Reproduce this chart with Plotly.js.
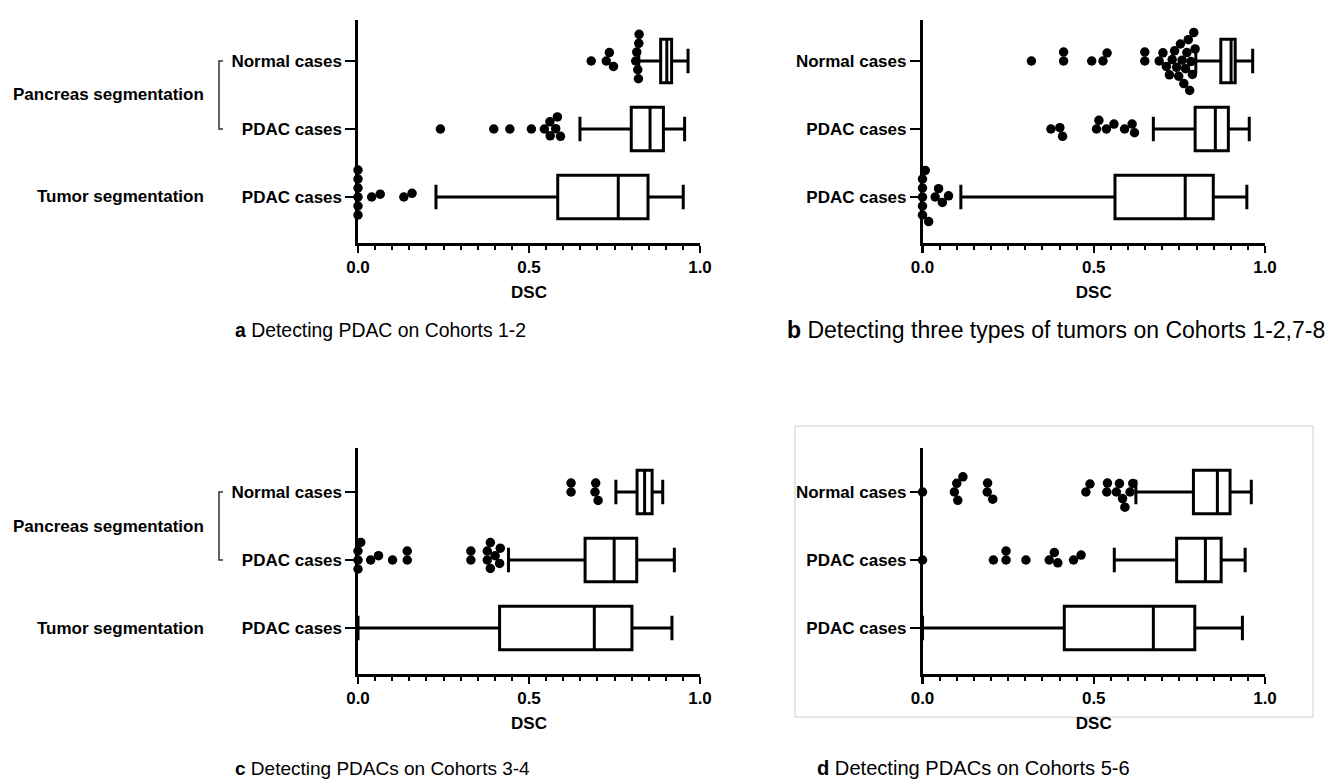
<!DOCTYPE html>
<html>
<head>
<meta charset="utf-8">
<script src="https://cdn.plot.ly/plotly-3.0.1.min.js"></script>
<style>html,body{margin:0;padding:0;background:#fff;}#chart{width:1340px;height:783px;}</style>
</head>
<body>
<div id="chart"></div>
<script>
// ---------- data ----------
// rows from bottom to top: Tumor segmentation / PDAC, Pancreas / PDAC, Pancreas / Normal
const rowPositions = [0, 1, 2];
const rowTicks = ["PDAC cases", "PDAC cases", "Normal cases"];
const groupLabels = ["Tumor segmentation", "Pancreas segmentation"];
const xTickVals = [0, 0.5, 1.0];
const axisTitle = "DSC";
const captions = [
  "<b>a</b> Detecting PDAC on Cohorts 1-2",
  "<b>b</b> Detecting three types of tumors on Cohorts 1-2,7-8",
  "<b>c</b> Detecting PDACs on Cohorts 3-4",
  "<b>d</b> Detecting PDACs on Cohorts 5-6"
];

// panel a
const aLowerFence = [0.228, 0.649, 0.821];
const aQ1         = [0.584, 0.799, 0.885];
const aMedian     = [0.761, 0.854, 0.903];
const aQ3         = [0.848, 0.893, 0.917];
const aUpperFence = [0.951, 0.955, 0.965];
const aOutTumor  = [0, 0, 0, 0, 0, 0, 0.040, 0.065, 0.134, 0.158];
const aOutPdac   = [0.241, 0.397, 0.444, 0.507, 0.545, 0.561, 0.562, 0.578, 0.583, 0.592];
const aOutNormal = [0.682, 0.726, 0.735, 0.747, 0.812, 0.815, 0.818, 0.820, 0.821, 0.822];

// panel b
const bLowerFence = [0.112, 0.674, 0.798];
const bQ1         = [0.562, 0.796, 0.871];
const bMedian     = [0.767, 0.855, 0.901];
const bQ3         = [0.849, 0.893, 0.913];
const bUpperFence = [0.947, 0.954, 0.964];
const bOutTumor  = [0, 0, 0, 0, 0, 0.008, 0.018, 0.037, 0.047, 0.058, 0.076];
const bOutPdac   = [0.375, 0.401, 0.409, 0.508, 0.515, 0.537, 0.559, 0.590, 0.612, 0.619];
const bOutNormal = [0.318, 0.412, 0.412, 0.494, 0.527, 0.539, 0.649, 0.649, 0.691,
                    0.702, 0.712, 0.721, 0.729, 0.736, 0.742, 0.748, 0.753, 0.758,
                    0.763, 0.768, 0.772, 0.776, 0.780, 0.784, 0.788, 0.792, 0.796];

// panel c
const cLowerFence = [0.000, 0.440, 0.754];
const cQ1         = [0.414, 0.664, 0.816];
const cMedian     = [0.691, 0.749, 0.838];
const cQ3         = [0.801, 0.815, 0.860];
const cUpperFence = [0.918, 0.925, 0.891];
const cOutTumor  = [];
const cOutPdac   = [0, 0, 0, 0.008, 0.037, 0.060, 0.101, 0.144, 0.144, 0.330, 0.330, 0.378, 0.378, 0.387, 0.387, 0.401, 0.414, 0.416];
const cOutNormal = [0.623, 0.623, 0.693, 0.695, 0.702];

// panel d
const dLowerFence = [0.000, 0.560, 0.623];
const dQ1         = [0.414, 0.742, 0.791];
const dMedian     = [0.674, 0.826, 0.861];
const dQ3         = [0.795, 0.872, 0.898];
const dUpperFence = [0.934, 0.942, 0.960];
const dOutTumor  = [];
const dOutPdac   = [0, 0.207, 0.244, 0.244, 0.302, 0.370, 0.385, 0.395, 0.441, 0.463];
const dOutNormal = [0, 0.093, 0.100, 0.103, 0.118, 0.189, 0.190, 0.205, 0.477, 0.489, 0.538, 0.540, 0.566, 0.575, 0.584, 0.591, 0.606, 0.614];

// ---------- layout geometry (pixels) ----------
const W = 1340, H = 783;
const FONT = "Liberation Sans, Arial, Helvetica, sans-serif";
const colsPx = [[358, 700], [922.5, 1265]];
const rowsPx = [[20, 243], [448, 674]];           // top, bottom (axis line) in px from top
const rowPitch = 68;                               // px per category step
const dotPx = 9;

function px2paperY(p) { return 1 - p / H; }

const panels = [
  {lf: aLowerFence, q1: aQ1, med: aMedian, q3: aQ3, uf: aUpperFence, outs: [aOutTumor, aOutPdac, aOutNormal], col: 0, row: 0, groups: true},
  {lf: bLowerFence, q1: bQ1, med: bMedian, q3: bQ3, uf: bUpperFence, outs: [bOutTumor, bOutPdac, bOutNormal], col: 1, row: 0, groups: false},
  {lf: cLowerFence, q1: cQ1, med: cMedian, q3: cQ3, uf: cUpperFence, outs: [cOutTumor, cOutPdac, cOutNormal], col: 0, row: 1, groups: true},
  {lf: dLowerFence, q1: dQ1, med: dMedian, q3: dQ3, uf: dUpperFence, outs: [dOutTumor, dOutPdac, dOutNormal], col: 1, row: 1, groups: false}
];

// beeswarm: place dots without overlap, offsets in px
function swarm(values, pxPerX, diam) {
  const pts = values.map((v, i) => ({v, i, px: v * pxPerX})).sort((a, b) => a.px - b.px);
  const placed = [];
  const out = new Array(values.length);
  for (const p of pts) {
    const near = placed.filter(q => Math.abs(q.px - p.px) < diam);
    const cands = [0];
    for (const q of near) {
      const dx = p.px - q.px;
      const dy = Math.sqrt(Math.max(0, diam * diam - dx * dx));
      cands.push(q.y + dy, q.y - dy);
    }
    cands.sort((a, b) => Math.abs(a) - Math.abs(b) || b - a);
    let chosen = 0;
    for (const c of cands) {
      if (near.every(q => (p.px - q.px) ** 2 + (c - q.y) ** 2 >= diam * diam - 0.01)) { chosen = c; break; }
    }
    placed.push({px: p.px, y: chosen});
    out[p.i] = chosen;
  }
  return out;
}

const data = [];
const layout = {
  width: W, height: H,
  margin: {l: 0, r: 0, t: 0, b: 0},
  paper_bgcolor: "#ffffff", plot_bgcolor: "#ffffff",
  showlegend: false,
  font: {family: FONT, color: "#000000", size: 17},
  annotations: [], shapes: []
};

panels.forEach((P, k) => {
  const n = k === 0 ? "" : String(k + 1);
  const xa = "x" + n, ya = "y" + n;
  const [x0, x1] = colsPx[P.col];
  const [yTop, yBot] = rowsPx[P.row];
  const rowCenterBottom = yBot - 46;                  // px of row 0
  const yMin = -(yBot - rowCenterBottom) / rowPitch;
  const yMax = (rowCenterBottom - yTop) / rowPitch;
  const pxPerX = x1 - x0;

  layout["xaxis" + n] = {
    domain: [x0 / W, x1 / W], anchor: ya, range: [0, 1], fixedrange: true,
    showline: true, linecolor: "#000", linewidth: 2.6, mirror: false,
    showgrid: false, zeroline: false,
    tickmode: "array", tickvals: xTickVals, ticktext: xTickVals.map(v => v.toFixed(1)),
    ticks: "outside", ticklen: 7, tickwidth: 2.2, tickcolor: "#000",
    tickfont: {family: FONT, size: 17, weight: "bold", color: "#000"},
    minor: {dtick: 0.05, tick0: 0, ticks: "outside", ticklen: 4, tickwidth: 2, tickcolor: "#000", showgrid: false},
    title: {text: axisTitle, font: {family: FONT, size: 17, weight: "bold", color: "#000"}, standoff: 10}
  };
  layout["yaxis" + n] = {
    domain: [px2paperY(yBot), px2paperY(yTop)], anchor: xa, range: [yMin, yMax], fixedrange: true,
    showline: true, linecolor: "#000", linewidth: 2.6,
    showgrid: false, zeroline: false,
    tickmode: "array", tickvals: rowPositions, ticktext: rowTicks,
    ticks: "outside", ticklen: 10, tickwidth: 2.2, tickcolor: "#000",
    tickfont: {family: FONT, size: 17, weight: "bold", color: "#000"}
  };

  data.push({
    type: "box", orientation: "h", xaxis: xa, yaxis: ya,
    y: rowPositions, q1: P.q1, median: P.med, q3: P.q3,
    lowerfence: P.lf, upperfence: P.uf,
    boxpoints: false, width: 0.64, whiskerwidth: 0.56,
    fillcolor: "#ffffff", line: {color: "#000", width: 3},
    hoverinfo: "x"
  });

  const xs = [], ys = [];
  P.outs.forEach((vals, r) => {
    const off = swarm(vals, pxPerX, dotPx);
    vals.forEach((v, i) => { xs.push(v); ys.push(rowPositions[r] + off[i] / rowPitch); });
  });
  data.push({
    type: "scatter", mode: "markers", xaxis: xa, yaxis: ya,
    x: xs, y: ys, cliponaxis: false,
    marker: {color: "#000", size: 9.5, line: {width: 0}},
    hoverinfo: "x"
  });

  if (P.groups) {
    layout.annotations.push(
      {xref: "paper", yref: ya, x: 206 / W, y: 1.5, xanchor: "right", yanchor: "middle", showarrow: false,
       text: groupLabels[1], font: {family: FONT, size: 17, weight: "bold", color: "#000"}},
      {xref: "paper", yref: ya, x: 206 / W, y: 0, xanchor: "right", yanchor: "middle", showarrow: false,
       text: groupLabels[0], font: {family: FONT, size: 17, weight: "bold", color: "#000"}}
    );
    const bx = 219 / W, bt = 223 / W;
    layout.shapes.push({type: "path", xref: "paper", yref: ya,
      path: `M ${bt} 2 L ${bx} 2 L ${bx} 1 L ${bt} 1`,
      line: {color: "#333", width: 1.5}});
  }
});

// panel d frame
layout.shapes.push({type: "rect", xref: "paper", yref: "paper",
  x0: 795 / W, x1: 1313 / W, y0: px2paperY(717), y1: px2paperY(426),
  line: {color: "#cfcfcf", width: 1}, fillcolor: "rgba(0,0,0,0)", layer: "below"});

// captions (each panel's caption has its own size in the source figure)
const capPos = [[233, 330], [785, 330], [233, 768], [815, 768]];
const capSize = [19.4, 23, 19, 20.1];
captions.forEach((t, i) => {
  layout.annotations.push({xref: "paper", yref: "paper", x: capPos[i][0] / W, y: px2paperY(capPos[i][1]),
    xanchor: "left", yanchor: "middle", showarrow: false, text: t,
    font: {family: FONT, size: capSize[i], color: "#000"}});
});

Plotly.newPlot("chart", data, layout, {displayModeBar: false, staticPlot: true});
</script>
</body>
</html>
